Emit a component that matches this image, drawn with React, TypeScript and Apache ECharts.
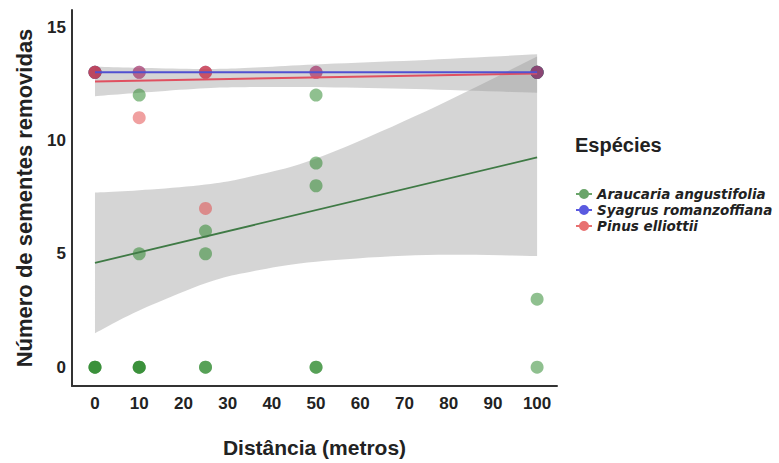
import React, { useEffect, useRef } from "react";
import * as echarts from "echarts";

const speciesNames = ["Araucaria angustifolia", "Syagrus romanzoffiana", "Pinus elliottii"];

// observed points [distance, removed seeds]
const araucariaPoints: number[][] = [
  [0, 0], [0, 0], [0, 0], [10, 0], [10, 0], [10, 0], [25, 0], [25, 0], [50, 0], [50, 0], [100, 0],
  [0, 13], [100, 13], [100, 13], [100, 13], [10, 12], [50, 12], [10, 5], [25, 5], [25, 6], [50, 8], [50, 9], [100, 3],
];
const syagrusPoints: number[][] = [
  [0, 13], [0, 13], [10, 13], [25, 13], [50, 13], [100, 13], [100, 13],
];
const pinusPoints: number[][] = [
  [0, 13], [0, 13], [10, 13], [25, 13], [25, 13], [50, 13], [100, 13], [10, 11], [25, 7],
];

// fitted lines
const araucariaFit: number[][] = [[0, 4.6], [100, 9.25]];
const syagrusFit: number[][] = [[0, 13], [100, 13]];
const pinusFit: number[][] = [[0, 12.6], [100, 12.95]];

// confidence bands
const bandX = [0, 10, 25, 35, 50, 75, 100];
const araucariaLower = [1.5, 2.5, 3.7, 4.2, 4.65, 4.95, 4.9];
const araucariaUpper = [7.7, 7.8, 8.05, 8.4, 9.2, 11.3, 13.7];
const pinusLower = [11.95, 12.1, 12.3, 12.35, 12.35, 12.25, 12.1];
const pinusUpper = [13.25, 13.2, 13.15, 13.2, 13.35, 13.55, 13.8];

const yTicks = [0, 5, 10, 15];
const xTicks = [0, 10, 20, 30, 40, 50, 60, 70, 80, 90, 100];

const colors = {
  green: "#1f811f",
  blue: "#3333cc",
  red: "#e14141",
};

function smoothPts(pts: number[][]): number[][] {
  const out: number[][] = [];
  const n = pts.length;
  for (let i = 0; i < n - 1; i++) {
    const p0 = pts[Math.max(0, i - 1)];
    const p1 = pts[i];
    const p2 = pts[i + 1];
    const p3 = pts[Math.min(n - 1, i + 2)];
    const steps = 10;
    for (let s = 0; s < steps; s++) {
      const t = s / steps;
      const t2 = t * t;
      const t3 = t2 * t;
      const f = (a: number, b: number, c: number, d: number) =>
        0.5 * (2 * b + (-a + c) * t + (2 * a - 5 * b + 4 * c - d) * t2 + (-a + 3 * b - 3 * c + d) * t3);
      out.push([f(p0[0], p1[0], p2[0], p3[0]), f(p0[1], p1[1], p2[1], p3[1])]);
    }
  }
  out.push(pts[n - 1]);
  return out;
}

function bandSeries(id: string, lower: number[], upper: number[]) {
  return {
    type: "custom",
    name: id,
    silent: true,
    z: 1,
    data: [[0, 0]],
    renderItem: (_params: any, api: any) => {
      const up = bandX.map((x, i) => api.coord([x, upper[i]]));
      const lo = bandX.map((x, i) => api.coord([x, lower[i]]));
      const points = [...smoothPts(up), ...smoothPts(lo).reverse()];
      return {
        type: "polygon",
        shape: { points },
        style: { fill: "rgba(150,150,150,0.4)", stroke: "none" },
      };
    },
  };
}

export default function App() {
  const ref = useRef<HTMLDivElement>(null);
  useEffect(() => {
    if (!ref.current) return;
    const chart = echarts.init(ref.current, null, { renderer: "svg" });
    const font = "'Liberation Sans', Arial, sans-serif";
    const legendFont = "'DejaVu Sans', Verdana, sans-serif";
    const legendIcon = "path://M0,4L16,4L16,6L0,6Z M13,5A5,5,0,1,1,3,5A5,5,0,1,1,13,5Z";
    chart.setOption({
      animation: false,
      textStyle: { fontFamily: font },
      grid: { left: 72, right: 222, top: 10, bottom: 75 },
      xAxis: {
        type: "value",
        min: -5.2,
        max: 104.5,
        splitNumber: 11,
        name: "Distância (metros)",
        nameLocation: "middle",
        nameGap: 51,
        nameTextStyle: { fontSize: 21, fontWeight: "bold", color: "#222", fontFamily: font },
        axisLine: { show: true, onZero: false, lineStyle: { color: "#333", width: 2 } },
        axisTick: { show: false },
        splitLine: { show: false },
        axisLabel: {
          margin: 9,
          fontSize: 17,
          fontWeight: "bold",
          color: "#222",
          fontFamily: font,
          showMinLabel: true,
          showMaxLabel: true,
          formatter: (v: number) => (xTicks.includes(v) ? String(v) : ""),
        },
      },
      yAxis: {
        type: "value",
        min: -0.83,
        max: 15.75,
        splitNumber: 3,
        name: "Número de sementes removidas",
        nameLocation: "middle",
        nameGap: 37,
        nameTextStyle: { fontSize: 22, fontWeight: "bold", color: "#222", fontFamily: font },
        axisLine: { show: true, onZero: false, lineStyle: { color: "#333", width: 2 } },
        axisTick: { show: false },
        splitLine: { show: false },
        axisLabel: {
          margin: 6,
          fontSize: 17,
          fontWeight: "bold",
          color: "#222",
          fontFamily: font,
          formatter: (v: number) => (yTicks.includes(v) ? String(v) : ""),
        },
      },
      legend: {
        orient: "vertical",
        left: 571,
        top: 182,
        itemGap: 2,
        itemWidth: 16,
        itemHeight: 10,
        icon: legendIcon,
        textStyle: {
          fontSize: 13.5,
          lineHeight: 14,
          fontStyle: "italic",
          fontWeight: "bold",
          color: "#222",
          fontFamily: legendFont,
        },
        data: [
          { name: speciesNames[0], icon: legendIcon, itemStyle: { color: "#6aa56a" } },
          { name: speciesNames[1], icon: legendIcon, itemStyle: { color: "#5a5ae0" } },
          { name: speciesNames[2], icon: legendIcon, itemStyle: { color: "#e87070" } },
        ],
      },
      graphic: [
        {
          type: "text",
          left: 575,
          top: 135,
          style: { text: "Espécies", fontSize: 20, fontWeight: "bold", fill: "#222", fontFamily: font },
        },
      ],
      series: [
        bandSeries("araBand", araucariaLower, araucariaUpper),
        bandSeries("pinBand", pinusLower, pinusUpper),
        {
          type: "scatter",
          name: speciesNames[0] + " pts",
          data: araucariaPoints,
          symbolSize: 13,
          itemStyle: { color: colors.green, opacity: 0.5 },
          z: 2,
        },
        {
          type: "scatter",
          name: speciesNames[1] + " pts",
          data: syagrusPoints,
          symbolSize: 13,
          itemStyle: { color: colors.blue, opacity: 0.5 },
          z: 2,
        },
        {
          type: "scatter",
          name: speciesNames[2] + " pts",
          data: pinusPoints,
          symbolSize: 13,
          itemStyle: { color: colors.red, opacity: 0.5 },
          z: 2,
        },
        {
          type: "line",
          name: speciesNames[0],
          data: araucariaFit,
          symbol: "none",
          lineStyle: { color: "#3f7a45", width: 1.8 },
          itemStyle: { color: "#6aa56a" },
          z: 3,
        },
        {
          type: "line",
          name: speciesNames[2],
          data: pinusFit,
          symbol: "none",
          lineStyle: { color: "#e05060", width: 2 },
          itemStyle: { color: "#e87070" },
          z: 3,
        },
        {
          type: "line",
          name: speciesNames[1],
          data: syagrusFit,
          symbol: "none",
          lineStyle: { color: "#5050d0", width: 2 },
          itemStyle: { color: "#5a5ae0" },
          z: 3,
        },
      ],
    });
    return () => chart.dispose();
  }, []);
  return (
    <div
      ref={ref}
      style={{ position: "absolute", left: 0, top: 0, width: 779, height: 463 }}
    />
  );
}
